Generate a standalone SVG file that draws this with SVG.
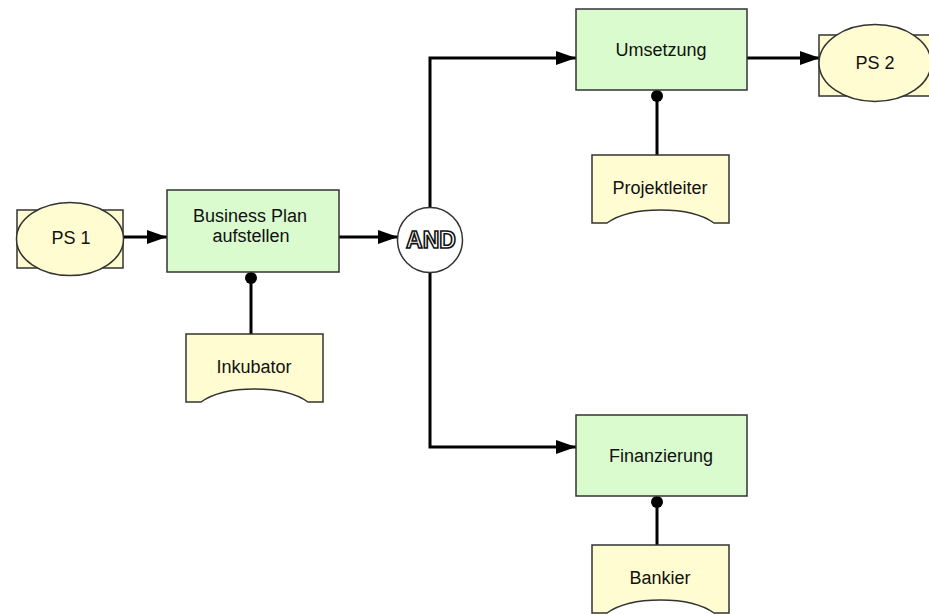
<svg xmlns="http://www.w3.org/2000/svg" width="929" height="614" viewBox="0 0 929 614">
  <defs>
    <marker id="arrow" viewBox="0 0 20 14" refX="20" refY="7" markerWidth="20" markerHeight="14" markerUnits="userSpaceOnUse" orient="auto">
      <path d="M0,0 L20,7 L0,14 Z" fill="#000"/>
    </marker>
    <!-- organisational unit: box with wavy bottom, 137 x 68 -->
    <path id="doc" d="M0,0 H137 V68 H122 C108,58 88,55 68.5,55 C49,55 29,58 15,68 H0 Z"/>
  </defs>
  <style>
    .lbl { font-family: "Liberation Sans", Arial, Helvetica, sans-serif; font-size: 18px; fill: #111; text-anchor: middle; }
    .fn { fill: #d9fbcd; stroke: #333; stroke-width: 1.5; }
    .ev { fill: #fefcd0; stroke: #333; stroke-width: 1.5; }
    .org { fill: #fefcd0; stroke: #333; stroke-width: 1.5; }
    .conn { fill: none; stroke: #000; stroke-width: 3; }
    .dot { fill: #000; }
  </style>

  <rect width="929" height="614" fill="#fff"/>

  <!-- connectors -->
  <g id="connectors">
    <path class="conn" d="M123,237 H167" marker-end="url(#arrow)"/>
    <path class="conn" d="M339,237 H398" marker-end="url(#arrow)"/>
    <path class="conn" d="M430,207 V58 H576" marker-end="url(#arrow)"/>
    <path class="conn" d="M430,272 V447 H576" marker-end="url(#arrow)"/>
    <path class="conn" d="M747,58 H820" marker-end="url(#arrow)"/>
    <path class="conn" d="M251,278 V334"/>
    <circle class="dot" cx="251" cy="278" r="6"/>
    <path class="conn" d="M657,96 V155"/>
    <circle class="dot" cx="657" cy="96" r="6"/>
    <path class="conn" d="M657,502 V545"/>
    <circle class="dot" cx="657" cy="502" r="6"/>
  </g>

  <!-- events -->
  <g id="ps1">
    <rect class="ev" x="17" y="210" width="106" height="58"/>
    <ellipse class="ev" cx="70" cy="239" rx="53.5" ry="36.5"/>
    <text class="lbl" x="71" y="244">PS 1</text>
  </g>
  <g id="ps2">
    <rect class="ev" x="819" y="35" width="112" height="61"/>
    <ellipse class="ev" cx="875" cy="63" rx="56" ry="38.5"/>
    <text class="lbl" x="875" y="69">PS 2</text>
  </g>

  <!-- functions -->
  <g id="business-plan">
    <rect class="fn" x="167" y="190" width="172" height="82"/>
    <text class="lbl" x="250" y="222">Business Plan</text>
    <text class="lbl" x="251" y="242">aufstellen</text>
  </g>
  <g id="umsetzung">
    <rect class="fn" x="576" y="9" width="171" height="81"/>
    <text class="lbl" x="661" y="56">Umsetzung</text>
  </g>
  <g id="finanzierung">
    <rect class="fn" x="576" y="415" width="171" height="81"/>
    <text class="lbl" x="661" y="462">Finanzierung</text>
  </g>

  <!-- AND connector -->
  <g id="and">
    <circle cx="430" cy="240" r="32.5" fill="#fff" stroke="#333" stroke-width="1.5"/>
    <text x="431" y="248" font-family="Liberation Sans, Arial, Helvetica, sans-serif" font-size="23" font-weight="bold" text-anchor="middle" fill="#fff" stroke="#111" stroke-width="1.6">AND</text>
  </g>

  <!-- organisational units -->
  <g id="inkubator">
    <use href="#doc" class="org" x="186" y="334"/>
    <text class="lbl" x="254" y="373">Inkubator</text>
  </g>
  <g id="projektleiter">
    <use href="#doc" class="org" x="592" y="155"/>
    <text class="lbl" x="660" y="194">Projektleiter</text>
  </g>
  <g id="bankier">
    <use href="#doc" class="org" x="592" y="545"/>
    <text class="lbl" x="660" y="584">Bankier</text>
  </g>
</svg>
